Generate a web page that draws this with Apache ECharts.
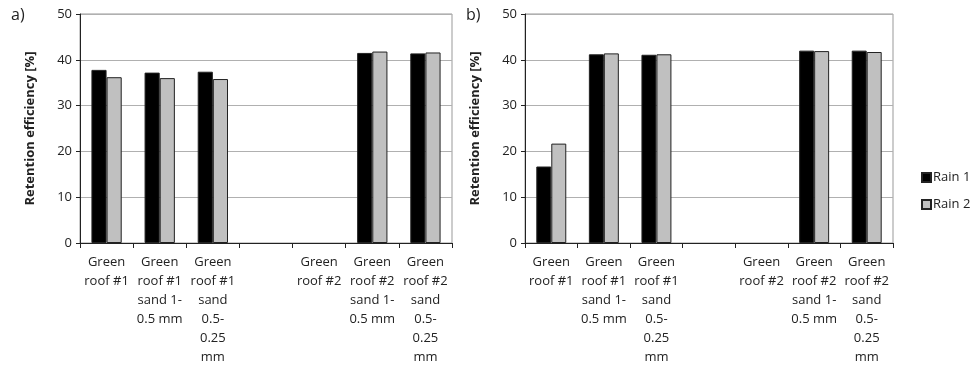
<!DOCTYPE html>
<html>
<head>
<meta charset="utf-8">
<script src="https://cdn.jsdelivr.net/npm/echarts@6/dist/echarts.min.js"></script>
<style>
  html, body { margin: 0; padding: 0; background: #fff; }
</style>
</head>
<body>
<div id="chart" style="width: 975px; height: 368px;"></div>
<script>
const categories = [
  'Green\nroof #1',
  'Green\nroof #1\nsand 1-\n0.5 mm',
  'Green\nroof #1\nsand\n0.5-\n0.25\nmm',
  '',
  'Green\nroof #2',
  'Green\nroof #2\nsand 1-\n0.5 mm',
  'Green\nroof #2\nsand\n0.5-\n0.25\nmm'
]
const yTicks = [0, 10, 20, 30, 40, 50]

// panel a)
const rain1A = [37.8, 37.2, 37.4, null, null, 41.5, 41.4]
const rain2A = [36.2, 36.0, 35.8, null, null, 41.8, 41.6]
// panel b)
const rain1B = [16.7, 41.2, 41.1, null, null, 42.0, 42.0]
const rain2B = [21.7, 41.4, 41.2, null, null, 41.9, 41.7]

const font = '"Open Sans", "Noto Sans", sans-serif'
const chart = echarts.init(document.getElementById('chart'))

const makeX = (gridIndex) => ({
  type: 'category',
  gridIndex,
  data: categories,
  axisLine: { lineStyle: { color: '#222', width: 1 } },
  axisTick: { show: true, length: 5, lineStyle: { color: '#222' } },
  axisLabel: {
    interval: 0,
    color: '#222',
    fontFamily: font,
    fontSize: 13,
    lineHeight: 19,
    margin: 10,
    verticalAlign: 'top'
  }
})

const makeY = (gridIndex) => ({
  type: 'value',
  gridIndex,
  min: yTicks[0],
  max: yTicks[yTicks.length - 1],
  interval: 10,
  name: 'Retention efficiency [%]',
  nameLocation: 'middle',
  nameGap: 43,
  nameTextStyle: { fontFamily: font, fontSize: 13, fontWeight: 'bold', color: '#222' },
  axisLine: { show: true, lineStyle: { color: '#222', width: 1 } },
  axisTick: { show: true, length: 4, lineStyle: { color: '#222' } },
  axisLabel: { color: '#222', fontFamily: font, fontSize: 13, margin: 8 },
  splitLine: { lineStyle: { color: '#b0b0b0', width: 1 } }
})

const barStyle = (color) => ({ color, borderColor: '#222', borderWidth: 1 })

const makeBar = (name, data, idx, color) => ({
  name,
  type: 'bar',
  xAxisIndex: idx,
  yAxisIndex: idx,
  data,
  barGap: '0%',
  barCategoryGap: '43%',
  itemStyle: barStyle(color)
})

const option = {
  animation: false,
  title: [
    { text: 'a)', left: 6, top: 2, textStyle: { fontFamily: font, fontSize: 16, fontWeight: 'normal', color: '#222' } },
    { text: 'b)', left: 461, top: 2, textStyle: { fontFamily: font, fontSize: 16, fontWeight: 'normal', color: '#222' } }
  ],
  grid: [
    { left: 80, top: 14, width: 372, height: 229, show: true, borderColor: '#999', borderWidth: 1 },
    { left: 525, top: 14, width: 368, height: 229, show: true, borderColor: '#999', borderWidth: 1 }
  ],
  legend: {
    orient: 'vertical',
    left: 916,
    top: 166,
    itemWidth: 9,
    itemHeight: 9,
    itemGap: 14,
    icon: 'rect',
    textStyle: { fontFamily: font, fontSize: 13, color: '#222', padding: [0, 0, 0, -3] },
    data: ['Rain 1', 'Rain 2']
  },
  xAxis: [makeX(0), makeX(1)],
  yAxis: [makeY(0), makeY(1)],
  series: [
    makeBar('Rain 1', rain1A, 0, '#000000'),
    makeBar('Rain 2', rain2A, 0, '#c0c0c0'),
    makeBar('Rain 1', rain1B, 1, '#000000'),
    makeBar('Rain 2', rain2B, 1, '#c0c0c0')
  ]
}

chart.setOption(option)
</script>
</body>
</html>
